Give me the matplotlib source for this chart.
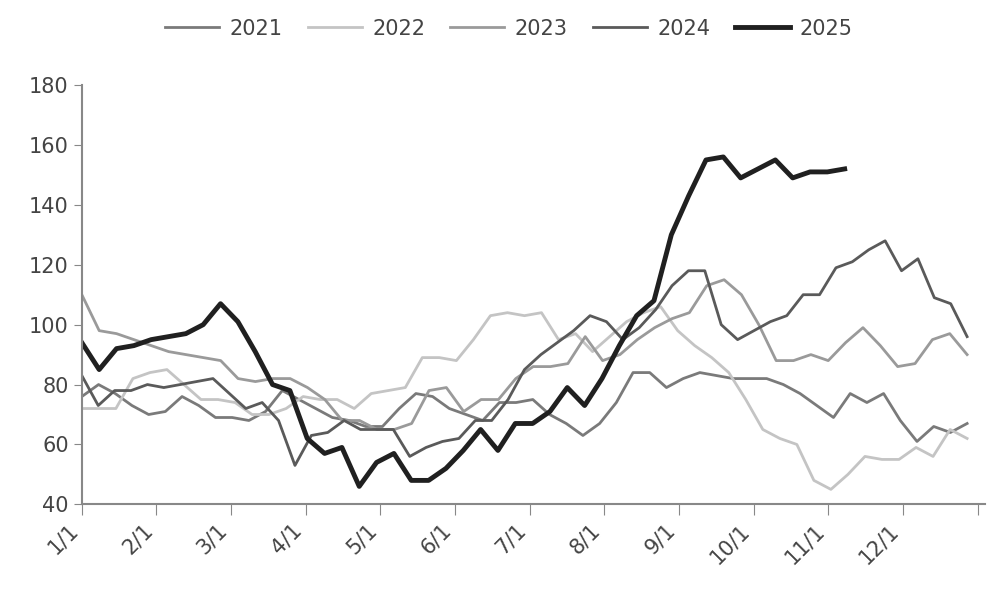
import matplotlib
matplotlib.use("Agg")
import matplotlib.pyplot as plt
import numpy as np

months = ["1/1","2/1","3/1","4/1","5/1","6/1","7/1","8/1","9/1","10/1","11/1","12/1"]
s2021 = [76,80,77,73,70,71,76,73,69,69,68,71,78,75,72,69,68,66,66,72,77,76,72,70,68,74,74,75,70,67,63,67,74,84,84,79,82,84,83,82,82,82,80,77,73,69,77,74,77,68,61,66,64,67]
s2022 = [72,72,72,82,84,85,80,75,75,74,70,70,72,76,75,75,72,77,78,79,89,89,88,95,103,104,103,104,95,97,91,96,101,104,106,98,93,89,84,75,65,62,60,48,45,50,56,55,55,59,56,65,62]
s2023 = [110,98,97,95,93,91,90,89,88,82,81,82,82,79,75,68,68,65,65,67,78,79,71,75,75,82,86,86,87,96,88,90,95,99,102,104,113,115,110,100,88,88,90,88,94,99,93,86,87,95,97,90]
s2024 = [83,73,78,78,80,79,80,81,82,77,72,74,68,53,63,64,68,65,65,65,56,59,61,62,68,68,75,85,90,94,98,103,101,95,99,105,113,118,118,100,95,98,101,103,110,110,119,121,125,128,118,122,109,107,96]
s2025 = [94,85,92,93,95,96,97,100,107,101,91,80,78,62,57,59,46,54,57,48,48,52,58,65,58,67,67,71,79,73,82,93,103,108,130,143,155,156,149,152,155,149,151,151,152]

series = [("2021", s2021, "#7a7a7a", 2.0, 11.86), ("2022", s2022, "#c4c4c4", 2.0, 11.86),
          ("2023", s2023, "#9a9a9a", 2.0, 11.86), ("2024", s2024, "#5a5a5a", 2.0, 11.86),
          ("2025", s2025, "#202020", 3.5, 10.22)]

fig = plt.figure(figsize=(9.98, 5.99), dpi=100)
ax = fig.add_axes([0.082, 0.158, 0.905, 0.70])
for name, vals, c, lw, end in series:
    x = np.linspace(0, end, len(vals))
    ax.plot(x, vals, color=c, lw=lw, label=name)

ax.set_xticks(list(range(12)) + [12])
ax.set_xticklabels(months + [""], rotation=45, ha="right", fontsize=15, color="#444")
ax.set_xlim(0, 12.1)
ax.set_ylim(40, 180)
ax.set_yticks(range(40, 181, 20))
ax.tick_params(axis="y", labelsize=15, colors="#444", length=6, color="#888")
ax.tick_params(axis="x", length=8, color="#888")
for s in ["top", "right"]:
    ax.spines[s].set_visible(False)
for s in ["left", "bottom"]:
    ax.spines[s].set_color("#888")
    ax.spines[s].set_linewidth(1.5)
fig.legend(loc="upper center", ncol=5, frameon=False, fontsize=15,
           bbox_to_anchor=(0.51, 1.0), handlelength=2.6, columnspacing=1.2,
           handletextpad=0.5, labelcolor="#444")
fig.savefig("out.png", dpi=100)
